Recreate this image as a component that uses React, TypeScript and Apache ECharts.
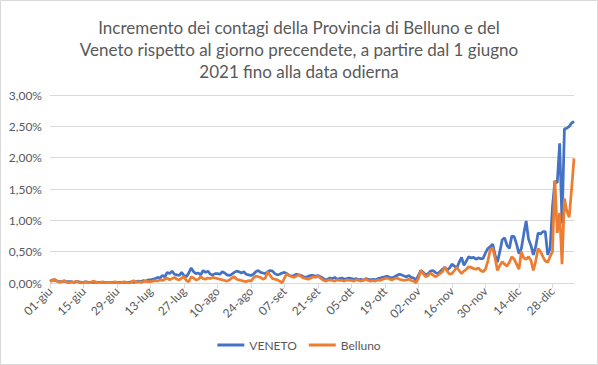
import React, { useEffect, useRef } from "react";
import * as echarts from "echarts";

const TITLE = "Incremento dei contagi della Provincia di Belluno e del\nVeneto rispetto al giorno precendete, a partire dal 1 giugno\n2021 fino alla data odierna";
const MONTHS = ["gen", "feb", "mar", "apr", "mag", "giu", "lug", "ago", "set", "ott", "nov", "dic"];
const DAY_COUNT = 220;

function buildDates(): string[] {
  const out: string[] = [];
  const d = new Date(2021, 5, 1);
  for (let i = 0; i < DAY_COUNT; i++) {
    const dd = String(d.getDate()).padStart(2, "0");
    out.push(dd + "-" + MONTHS[d.getMonth()]);
    d.setDate(d.getDate() + 1);
  }
  return out;
}
const categories = buildDates();

const veneto = [
  0.03, 0.05, 0.04, 0.03, 0.02, 0.02, 0.03, 0.02, 0.02, 0.02, 0.01, 0.02, 0.02, 0.01,
  0.01, 0.02, 0.01, 0.01, 0.01, 0.01, 0.01, 0.01, 0.01, 0.01, 0.01, 0.01, 0.01, 0.01,
  0.01, 0.01, 0.01, 0.01, 0.01, 0.01, 0.02, 0.01, 0.02, 0.03, 0.02, 0.04, 0.03, 0.05,
  0.05, 0.06, 0.07, 0.09, 0.08, 0.12, 0.10, 0.17, 0.15, 0.19, 0.14, 0.13, 0.12, 0.17,
  0.12, 0.10, 0.16, 0.24, 0.18, 0.15, 0.16, 0.13, 0.20, 0.17, 0.19, 0.14, 0.13, 0.15,
  0.15, 0.14, 0.18, 0.16, 0.13, 0.12, 0.14, 0.17, 0.19, 0.18, 0.16, 0.18, 0.14, 0.13,
  0.12, 0.14, 0.18, 0.20, 0.17, 0.16, 0.15, 0.18, 0.20, 0.19, 0.15, 0.13, 0.14, 0.16,
  0.17, 0.15, 0.12, 0.11, 0.12, 0.14, 0.13, 0.12, 0.10, 0.09, 0.11, 0.12, 0.12, 0.11,
  0.12, 0.10, 0.08, 0.05, 0.06, 0.08, 0.07, 0.09, 0.06, 0.07, 0.08, 0.06, 0.07, 0.08,
  0.07, 0.06, 0.07, 0.05, 0.06, 0.04, 0.07, 0.06, 0.05, 0.06, 0.05, 0.07, 0.08, 0.09,
  0.10, 0.11, 0.09, 0.08, 0.10, 0.12, 0.14, 0.13, 0.11, 0.10, 0.12, 0.09, 0.08, 0.05,
  0.12, 0.20, 0.17, 0.13, 0.15, 0.19, 0.20, 0.17, 0.15, 0.18, 0.22, 0.25, 0.21, 0.24,
  0.30, 0.27, 0.24, 0.33, 0.41, 0.28, 0.35, 0.42, 0.40, 0.41, 0.38, 0.40, 0.39, 0.39,
  0.48, 0.55, 0.58, 0.62, 0.45, 0.33, 0.50, 0.69, 0.72, 0.60, 0.55, 0.75, 0.74, 0.62,
  0.47, 0.55, 0.78, 0.99, 0.70, 0.60, 0.45, 0.58, 0.80, 0.78, 0.82, 0.82, 0.45, 0.55,
  1.21, 1.62, 1.60, 2.23, 0.95, 2.46, 2.47, 2.50, 2.55, 2.58,
];

const belluno = [
  0.02, 0.04, 0.06, 0.03, 0.01, 0.02, 0.04, 0.01, 0.00, 0.02, 0.01, 0.03, 0.01, 0.00,
  0.01, 0.02, 0.00, 0.01, 0.03, 0.02, 0.00, 0.01, 0.02, 0.00, 0.01, 0.01, 0.00, 0.02,
  0.01, 0.00, 0.01, 0.02, 0.01, 0.00, 0.01, 0.04, 0.01, 0.02, 0.01, 0.02, 0.03, 0.02,
  0.02, 0.03, 0.04, 0.03, 0.05, 0.04, 0.06, 0.08, 0.05, 0.07, 0.09, 0.06, 0.05, 0.08,
  0.10, 0.04, 0.02, 0.10, 0.08, 0.05, 0.06, 0.10, 0.07, 0.06, 0.08, 0.07, 0.09, 0.08,
  0.07, 0.06, 0.05, 0.04, 0.03, 0.05, 0.08, 0.10, 0.06, 0.05, 0.04, 0.03, 0.02, 0.04,
  0.03, 0.08, 0.11, 0.10, 0.09, 0.06, 0.08, 0.18, 0.12, 0.07, 0.06, 0.05, 0.03, 0.00,
  0.08, 0.15, 0.12, 0.10, 0.09, 0.11, 0.13, 0.10, 0.08, 0.07, 0.06, 0.08, 0.10, 0.09,
  0.11, 0.08, 0.05, 0.03, 0.04, 0.05, 0.04, 0.03, 0.05, 0.04, 0.04, 0.03, 0.05, 0.04,
  0.04, 0.03, 0.05, 0.04, 0.03, 0.05, 0.06, 0.04, 0.03, 0.04, 0.03, 0.05, 0.04, 0.06,
  0.07, 0.08, 0.06, 0.05, 0.07, 0.08, 0.06, 0.05, 0.04, 0.05, 0.06, 0.04, 0.03, 0.00,
  0.08, 0.20, 0.15, 0.10, 0.12, 0.16, 0.13, 0.10, 0.12, 0.15, 0.18, 0.25, 0.19, 0.14,
  0.15, 0.20, 0.25, 0.20, 0.15, 0.19, 0.22, 0.26, 0.25, 0.23, 0.22, 0.24, 0.20, 0.18,
  0.22, 0.35, 0.53, 0.56, 0.40, 0.20, 0.28, 0.34, 0.30, 0.27, 0.33, 0.42, 0.38, 0.30,
  0.22, 0.50, 0.40, 0.38, 0.42, 0.36, 0.20, 0.35, 0.55, 0.50, 0.42, 0.35, 0.33, 0.42,
  0.50, 1.64, 0.80, 1.12, 0.30, 1.35, 1.15, 1.05, 1.50, 1.99,
];

const SERIES_NAMES = ["VENETO", "Belluno"];
const COLORS = ["#4472C4", "#ED7D31"];
const FONT = "Lato, 'Open Sans', sans-serif";

export default function App() {
  const ref = useRef<HTMLDivElement>(null);
  useEffect(() => {
    document.body.style.margin = "0";
    const chart = echarts.init(ref.current!, undefined, { renderer: "svg" });
    chart.setOption({
      animation: false,
      backgroundColor: "#fff",
      textStyle: { fontFamily: FONT },
      title: {
        text: TITLE,
        left: "center",
        top: 11,
        textStyle: { fontSize: 17, fontWeight: "normal", color: "#595959", lineHeight: 22, fontFamily: FONT },
      },
      graphic: [
        {
          type: "rect",
          shape: { x: 0.5, y: 0.5, width: 597, height: 364 },
          style: { fill: "none", stroke: "#d9d9d9", lineWidth: 1 },
          silent: true,
        },
      ],
      legend: {
        bottom: 9,
        left: "center",
        icon: "rect",
        itemWidth: 27,
        itemHeight: 3,
        itemGap: 12,
        textStyle: { fontSize: 12, color: "#595959", fontFamily: FONT },
        data: SERIES_NAMES,
      },
      grid: { left: 50, right: 24, top: 95, bottom: 82 },
      xAxis: {
        type: "category",
        data: categories,
        boundaryGap: false,
        axisLine: { lineStyle: { color: "#d9d9d9" } },
        axisTick: { interval: 13, length: 5, lineStyle: { color: "#d9d9d9" } },
        axisLabel: { interval: 13, rotate: 45, fontSize: 12, color: "#595959", margin: 6, fontFamily: FONT },
      },
      yAxis: {
        type: "value",
        min: 0,
        max: 3,
        interval: 0.5,
        axisLine: { show: false },
        axisTick: { show: false },
        splitLine: { lineStyle: { color: "#d9d9d9" } },
        axisLabel: {
          fontSize: 12,
          color: "#595959",
          margin: 8,
          fontFamily: FONT,
          formatter: (v: number) => v.toFixed(2).replace(".", ",") + "%",
        },
      },
      series: [
        {
          name: SERIES_NAMES[0],
          type: "line",
          data: veneto,
          symbol: "none",
          color: COLORS[0],
          lineStyle: { width: 2.75, color: COLORS[0] },
        },
        {
          name: SERIES_NAMES[1],
          type: "line",
          data: belluno,
          symbol: "none",
          color: COLORS[1],
          lineStyle: { width: 2.75, color: COLORS[1] },
        },
      ],
    });
    return () => chart.dispose();
  }, []);
  return <div ref={ref} style={{ width: 598, height: 365 }} />;
}
